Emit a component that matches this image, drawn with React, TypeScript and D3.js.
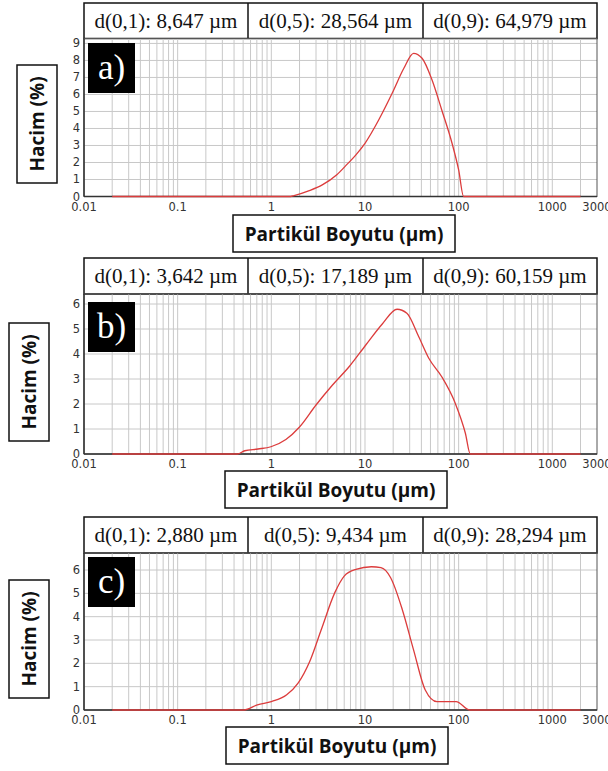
import React from "react";
import * as d3 from "d3";

// ---------- data ----------
const xTickValues = [0.01, 0.1, 1, 10, 100, 1000, 3000];
const xTickLabels = ["0.01", "0.1", "1", "10", "100", "1000", "3000"];

const panelLabels = ["a)", "b)", "c)"];
const headerA = ["d(0,1): 8,647 µm", "d(0,5): 28,564 µm", "d(0,9): 64,979 µm"];
const headerB = ["d(0,1): 3,642 µm", "d(0,5): 17,189 µm", "d(0,9): 60,159 µm"];
const headerC = ["d(0,1): 2,880 µm", "d(0,5): 9,434 µm", "d(0,9): 28,294 µm"];

const yTicksA = [0, 1, 2, 3, 4, 5, 6, 7, 8, 9];
const yTicksB = [0, 1, 2, 3, 4, 5, 6];
const yTicksC = [0, 1, 2, 3, 4, 5, 6];

const sizeA = [0.02, 1.6, 1.75, 2.5, 3.5, 5, 6.2, 8, 10, 14, 19.5, 26, 33, 40.7, 52, 66, 85, 100, 113, 2000];
const volA = [0, 0, 0.05, 0.33, 0.68, 1.28, 1.8, 2.45, 3.13, 4.5, 6.07, 7.54, 8.42, 8.13, 6.85, 5.09, 3.13, 1.56, 0, 0];

const sizeB = [0.02, 0.437, 0.52, 0.72, 0.99, 1.43, 2.0, 3.0, 4.5, 6.8, 10.2, 15.3, 22, 28, 37.5, 48, 66, 92, 118, 133, 2000];
const volB = [0, 0, 0.13, 0.2, 0.29, 0.58, 1.08, 1.96, 2.76, 3.5, 4.36, 5.2, 5.79, 5.63, 4.69, 3.83, 3.09, 2.03, 0.83, 0, 0];

const sizeC = [0.02, 0.51, 0.71, 1.0, 1.46, 1.93, 2.57, 3.41, 4.75, 6.0, 8.0, 11.7, 14.8, 18.8, 25, 33, 44, 58.7, 94, 131, 2000];
const volC = [0, 0, 0.22, 0.36, 0.65, 1.15, 2.08, 3.44, 5.02, 5.74, 6.03, 6.14, 6.1, 5.67, 4.31, 2.58, 0.86, 0.36, 0.36, 0, 0];

// ---------- layout ----------
const W = 608;
const H = 771;
const plotLeft = 84;
const plotRight = 597;
const dividers = [248, 423];

type Panel = {
  label: string;
  header: string[];
  yTicks: number[];
  sizes: number[];
  vols: number[];
  headerTop: number;
  plotTop: number;
  plotBottom: number;
  yMax: number;
  yBox: [number, number, number, number];
  tagBox: [number, number];
  xTitleBox: [number, number, number, number];
};

const panels: Panel[] = [
  {
    label: panelLabels[0], header: headerA, yTicks: yTicksA, sizes: sizeA, vols: volA,
    headerTop: 3, plotTop: 38.5, plotBottom: 196.5, yMax: 9.29,
    yBox: [17, 65, 40, 118], tagBox: [88, 43], xTitleBox: [233, 215, 222, 37],
  },
  {
    label: panelLabels[1], header: headerB, yTicks: yTicksB, sizes: sizeB, vols: volB,
    headerTop: 258, plotTop: 294, plotBottom: 454, yMax: 6.4,
    yBox: [9, 323, 40, 118], tagBox: [88, 302], xTitleBox: [225, 471, 222, 37],
  },
  {
    label: panelLabels[2], header: headerC, yTicks: yTicksC, sizes: sizeC, vols: volC,
    headerTop: 517, plotTop: 553, plotBottom: 710, yMax: 6.73,
    yBox: [9, 580, 40, 118], tagBox: [88, 557], xTitleBox: [226, 727, 222, 37],
  },
];

const gridValues: number[] = [];
for (let e = -2; e <= 3; e++) {
  for (let m = 1; m <= 9; m++) {
    const v = m * Math.pow(10, e);
    if (v > 0.01 + 1e-9 && v < 3000 - 1e-6) gridValues.push(v);
  }
}

const x = d3.scaleLog().domain([0.01, 3000]).range([plotLeft, plotRight]);

function PanelView({ p }: { p: Panel }) {
  const y = d3.scaleLinear().domain([0, p.yMax]).range([p.plotBottom, p.plotTop]);
  const pts = p.sizes.map((s, i) => [s, p.vols[i]] as [number, number]);
  const line = d3
    .line<[number, number]>()
    .x((d) => x(d[0]))
    .y((d) => y(d[1]))
    .curve(d3.curveMonotoneX);
  const cells = [plotLeft, ...dividers, plotRight];
  const hdrH = p.plotTop - p.headerTop;
  const [bx, by, bw, bh] = p.yBox;
  const [tx, ty, tw, th] = p.xTitleBox;
  return (
    <g>
      {/* header */}
      <rect x={plotLeft} y={p.headerTop} width={plotRight - plotLeft} height={hdrH} fill="#fff" stroke="#111" strokeWidth={1.5} />
      {dividers.map((dx) => (
        <line key={dx} x1={dx} x2={dx} y1={p.headerTop} y2={p.plotTop} stroke="#111" strokeWidth={1.5} />
      ))}
      {p.header.map((t, i) => (
        <text key={i} x={(cells[i] + cells[i + 1]) / 2} y={p.headerTop + hdrH / 2 + 7} textAnchor="middle"
          fontFamily="'Liberation Serif', 'Times New Roman', serif" fontSize={21} fill="#111">{t}</text>
      ))}
      {/* grid */}
      {gridValues.map((v) => (
        <line key={"gx" + v} x1={x(v)} x2={x(v)} y1={p.plotTop} y2={p.plotBottom} stroke="#c8c8c8" strokeWidth={1} />
      ))}
      {p.yTicks.filter((t) => t > 0).map((t) => (
        <line key={"gy" + t} x1={plotLeft} x2={plotRight} y1={y(t)} y2={y(t)} stroke="#c8c8c8" strokeWidth={1} />
      ))}
      {/* frame */}
      <rect x={plotLeft} y={p.plotTop} width={plotRight - plotLeft} height={p.plotBottom - p.plotTop} fill="none" stroke="#555" strokeWidth={1} />
      <line x1={plotLeft} x2={plotLeft} y1={p.plotTop} y2={p.plotBottom} stroke="#333" strokeWidth={1.5} />
      <line x1={plotLeft} x2={plotRight} y1={p.plotBottom} y2={p.plotBottom} stroke="#333" strokeWidth={1.5} />
      {/* curve */}
      <path d={line(pts) || ""} fill="none" stroke="#dc3c3c" strokeWidth={1.3} />
      {/* y ticks */}
      {p.yTicks.map((t) => (
        <text key={"yt" + t} x={80} y={y(t) + 4} textAnchor="end" fontFamily="'DejaVu Sans', Verdana, sans-serif" fontSize={11.5} fill="#333">{t}</text>
      ))}
      {/* x ticks */}
      {xTickValues.map((v, i) => (
        <text key={"xt" + v} x={x(v)} y={p.plotBottom + 14} textAnchor="middle" fontFamily="'DejaVu Sans', Verdana, sans-serif" fontSize={11.5} fill="#333">{xTickLabels[i]}</text>
      ))}
      {/* panel tag */}
      <rect x={p.tagBox[0]} y={p.tagBox[1]} width={47} height={50} fill="#000" />
      <text x={p.tagBox[0] + 23.5} y={p.tagBox[1] + 36} textAnchor="middle" fontFamily="'Liberation Serif', 'Times New Roman', serif" fontSize={35} fill="#fff">{p.label}</text>
      {/* y title box */}
      <rect x={bx} y={by} width={bw} height={bh} fill="#fff" stroke="#111" strokeWidth={1.5} />
      <text transform={`translate(${bx + bw / 2 + 7},${by + bh / 2}) rotate(-90)`} textAnchor="middle"
        fontFamily="'Open Sans', sans-serif" fontWeight="bold" fontSize={19} fill="#111">Hacim (%)</text>
      {/* x title box */}
      <rect x={tx} y={ty} width={tw} height={th} fill="#fff" stroke="#111" strokeWidth={1.5} />
      <text x={tx + tw / 2} y={ty + th / 2 + 7} textAnchor="middle"
        fontFamily="'Open Sans', sans-serif" fontWeight="bold" fontSize={19} fill="#111">Partikül Boyutu (µm)</text>
    </g>
  );
}

export default function App() {
  return (
    <svg width={W} height={H} viewBox={`0 0 ${W} ${H}`} style={{ position: "absolute", left: 0, top: 0, background: "#fff" }}>
      <rect x={0} y={0} width={W} height={H} fill="#fff" />
      {panels.map((p, i) => (
        <PanelView key={i} p={p} />
      ))}
    </svg>
  );
}
